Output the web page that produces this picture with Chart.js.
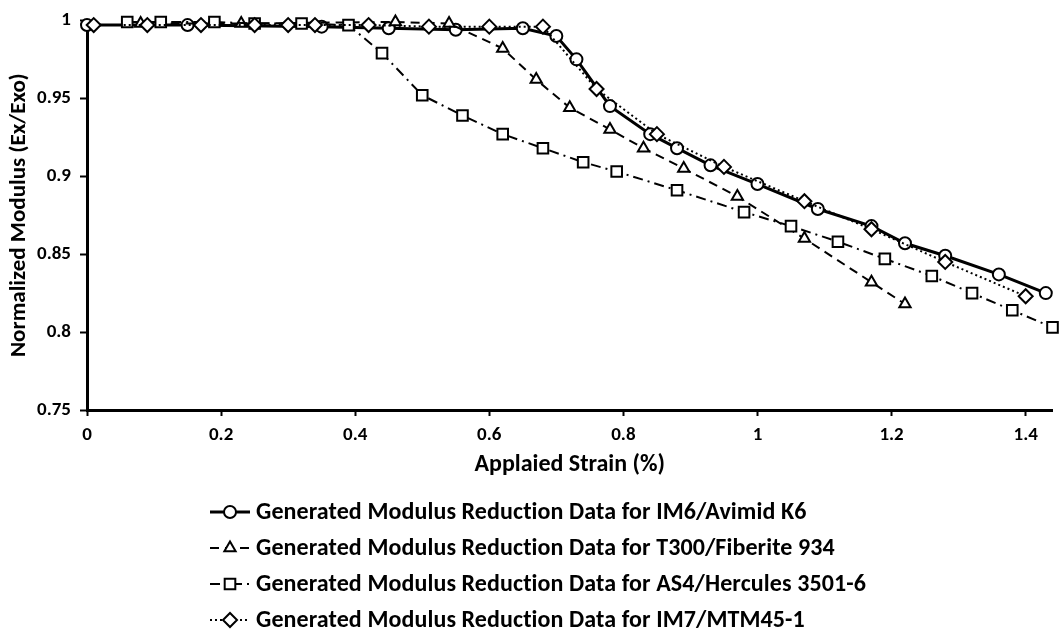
<!DOCTYPE html>
<html>
<head>
<meta charset="utf-8">
<script src="https://cdn.jsdelivr.net/npm/chart.js@4.4.1/dist/chart.umd.min.js"></script>
<style>
  html, body { margin: 0; padding: 0; background: #fff; }
  #wrap { width: 1062px; height: 634px; }
</style>
</head>
<body>
<div id="wrap"><canvas id="chart" width="1062" height="634"></canvas></div>
<script>
// Applied strain (%) and normalized modulus for each material
const strainIM6 = [0, 0.15, 0.35, 0.45, 0.55, 0.65, 0.70, 0.73, 0.78, 0.84, 0.88, 0.93, 1.00, 1.09, 1.17, 1.22, 1.28, 1.36, 1.43];
const modIM6 = [0.997, 0.997, 0.996, 0.995, 0.994, 0.995, 0.990, 0.975, 0.945, 0.927, 0.918, 0.907, 0.895, 0.879, 0.868, 0.857, 0.849, 0.837, 0.825];

const strainT300 = [0.08, 0.23, 0.46, 0.54, 0.62, 0.67, 0.72, 0.78, 0.83, 0.89, 0.97, 1.07, 1.17, 1.22];
const modT300 = [0.998, 0.998, 0.999, 0.998, 0.982, 0.962, 0.944, 0.930, 0.918, 0.905, 0.887, 0.860, 0.832, 0.818];

const strainAS4 = [0.06, 0.11, 0.19, 0.25, 0.32, 0.39, 0.44, 0.50, 0.56, 0.62, 0.68, 0.74, 0.79, 0.88, 0.98, 1.05, 1.12, 1.19, 1.26, 1.32, 1.38, 1.44];
const modAS4 = [0.999, 0.999, 0.999, 0.998, 0.998, 0.997, 0.979, 0.952, 0.939, 0.927, 0.918, 0.909, 0.903, 0.891, 0.877, 0.868, 0.858, 0.847, 0.836, 0.825, 0.814, 0.803];

const strainIM7 = [0.01, 0.09, 0.17, 0.25, 0.30, 0.34, 0.42, 0.51, 0.60, 0.68, 0.76, 0.85, 0.95, 1.07, 1.17, 1.28, 1.40];
const modIM7 = [0.997, 0.997, 0.997, 0.997, 0.997, 0.997, 0.997, 0.996, 0.996, 0.996, 0.956, 0.927, 0.906, 0.884, 0.866, 0.845, 0.823];

const labels = [
  "Generated Modulus Reduction Data for IM6/Avimid K6",
  "Generated Modulus Reduction Data for T300/Fiberite 934",
  "Generated Modulus Reduction Data for AS4/Hercules 3501-6",
  "Generated Modulus Reduction Data for IM7/MTM45-1",
];

const xTitle = "Applaied Strain (%)";
const yTitle = "Normalized Modulus (Ex/Exo)";

const FONT = "Carlito, Lato, 'Open Sans', sans-serif";

function pairs(xs, ys) {
  return xs.map((x, i) => ({ x: x, y: ys[i] }));
}

function series(label, xs, ys, extra) {
  return Object.assign({
    label: label,
    data: pairs(xs, ys),
    showLine: true,
    borderColor: "#000",
    backgroundColor: "#fff",
    pointBorderColor: "#000",
    pointBackgroundColor: "#fff",
    pointBorderWidth: 2,
    tension: 0,
    clip: false,
  }, extra);
}

// legend drawn like the Excel one: line sample + marker, left aligned rows
const excelLegend = {
  id: "excelLegend",
  afterDraw(chart) {
    const ctx = chart.ctx;
    const textX = 256;
    const rows = [512, 548, 584, 620];
    ctx.save();
    ctx.font = "bold 24px " + FONT;
    ctx.textBaseline = "middle";
    // a little spacing keeps Lato from joining "ti" into a ligature
    if ("letterSpacing" in ctx) ctx.letterSpacing = "0.1px";
    chart.data.datasets.forEach((ds, i) => {
      const y = rows[i];
      ctx.strokeStyle = "#000";
      ctx.lineWidth = ds.borderWidth;
      ctx.setLineDash(ds.borderDash || []);
      ctx.beginPath();
      ctx.moveTo(textX - 46, y);
      ctx.lineTo(textX - 6, y);
      ctx.stroke();
      ctx.setLineDash([]);
      ctx.fillStyle = "#fff";
      ctx.lineWidth = 2;
      Chart.helpers.drawPoint(ctx, {
        pointStyle: ds.pointStyle,
        radius: ds.pointRadius,
        borderWidth: 2,
        rotation: 0,
      }, textX - 26, y);
      ctx.fillStyle = "#000";
      ctx.fillText(ds.label, textX, y + 1);
    });
    ctx.restore();
  },
};

new Chart(document.getElementById("chart"), {
  type: "scatter",
  data: {
    datasets: [
      series(labels[0], strainIM6, modIM6, { borderWidth: 3, pointStyle: "circle", pointRadius: 6, order: 4 }),
      series(labels[1], strainT300, modT300, { borderWidth: 2, borderDash: [9, 6], pointStyle: "triangle", pointRadius: 6.5, order: 3 }),
      series(labels[2], strainAS4, modAS4, { borderWidth: 2, borderDash: [10, 5, 2, 5], pointStyle: "rect", pointRadius: 7.5, order: 2 }),
      series(labels[3], strainIM7, modIM7, { borderWidth: 2, borderDash: [2, 3], pointStyle: "rectRot", pointRadius: 7, order: 1 }),
    ],
  },
  options: {
    responsive: false,
    animation: false,
    devicePixelRatio: 1,
    layout: { padding: { top: 17, right: 2, left: 0, bottom: 0 } },
    plugins: {
      legend: { display: false },
      tooltip: { enabled: false },
    },
    scales: {
      x: {
        type: "linear",
        min: 0,
        max: 1.44,
        afterFit: (scale) => { scale.height = 224; },
        border: { display: true, color: "#000", width: 3 },
        grid: { display: true, drawOnChartArea: false, drawTicks: true, tickLength: 6, tickColor: "#000", tickWidth: 2 },
        ticks: {
          stepSize: 0.2,
          includeBounds: false,
          autoSkip: false,
          maxRotation: 0,
          padding: 8,
          color: "#000",
          font: { family: FONT, size: 19, weight: "bold" },
          callback: (v) => String(+v.toFixed(2)),
        },
        title: {
          display: true,
          text: xTitle,
          color: "#000",
          font: { family: FONT, size: 24, weight: "bold" },
          padding: { top: 0, bottom: 155 },
        },
      },
      y: {
        type: "linear",
        min: 0.75,
        max: 1,
        afterFit: (scale) => { scale.width = 87; },
        border: { display: true, color: "#000", width: 3 },
        grid: { display: true, drawOnChartArea: false, drawTicks: true, tickLength: 7, tickColor: "#000", tickWidth: 2 },
        ticks: {
          stepSize: 0.05,
          padding: 9,
          color: "#000",
          font: { family: FONT, size: 19, weight: "bold" },
          callback: (v) => String(+v.toFixed(2)),
        },
        title: {
          display: true,
          text: yTitle,
          color: "#000",
          font: { family: FONT, size: 23, weight: "bold" },
          padding: { top: 5, bottom: 0 },
        },
      },
    },
  },
  plugins: [excelLegend],
});
</script>
</body>
</html>
